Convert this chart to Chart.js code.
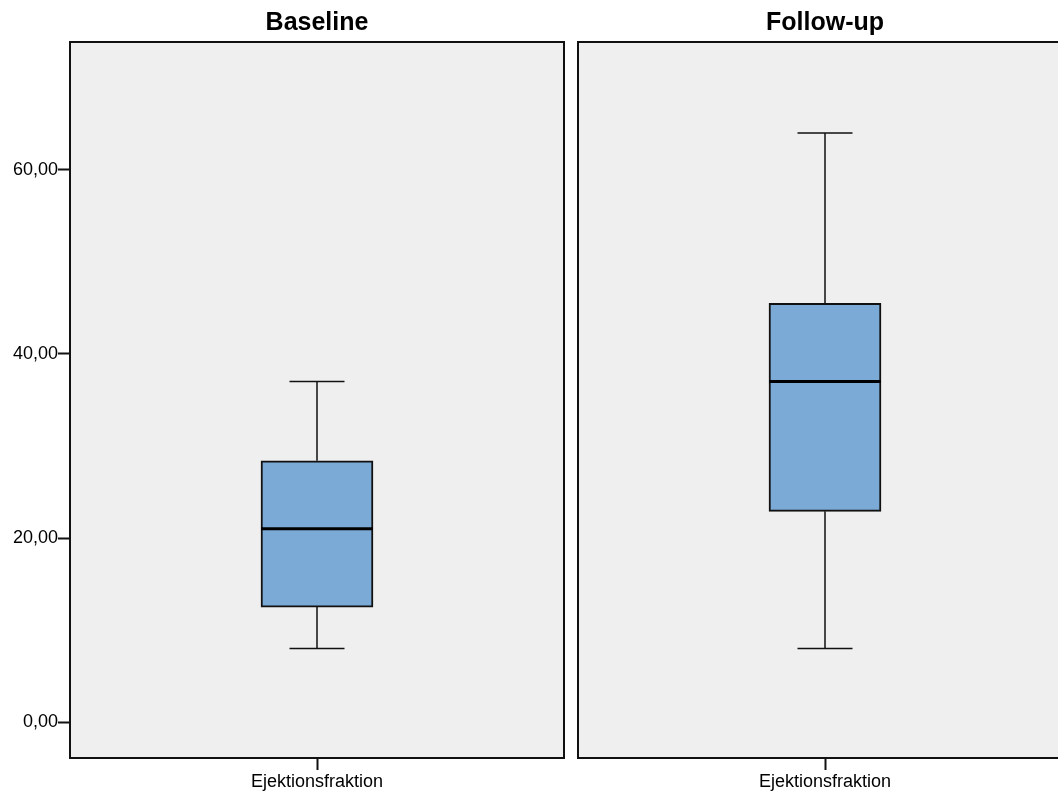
<!DOCTYPE html>
<html>
<head>
<meta charset="utf-8">
<script src="https://cdn.jsdelivr.net/npm/chart.js@4/dist/chart.umd.min.js"></script>
<style>
  html, body { margin: 0; padding: 0; background: #fff; overflow: hidden; }
  body { width: 1058px; height: 794px; position: relative; }
  .panel { position: absolute; top: 0; height: 794px; }
  #left { left: 0; width: 571px; }
  #right { left: 571px; width: 508px; }
</style>
</head>
<body>
<div class="panel" id="left"><canvas id="baseChart"></canvas></div>
<div class="panel" id="right"><canvas id="followChart"></canvas></div>
<script>
// Data
const categories = ['Ejektionsfraktion'];
const panelTitles = ['Baseline', 'Follow-up'];
const baselineStats = [8, 12.5, 21, 28.4, 37];   // min, q1, median, q3, max
const followupStats = [8, 22.9, 37, 45.5, 64];
const yTicks = [0, 20, 40, 60];
const yMin = -3.9;
const yMax = 73.9;

const FONT = "'Liberation Sans', Arial, sans-serif";

// background + frame of the plot area
const frame = {
    id: 'frame',
    beforeDraw(chart) {
        const a = chart.chartArea;
        const ctx = chart.ctx;
        ctx.save();
        ctx.fillStyle = '#efefef';
        ctx.fillRect(a.left, a.top, a.right - a.left, a.bottom - a.top);
        ctx.restore();
    },
    afterDraw(chart) {
        const a = chart.chartArea;
        const ctx = chart.ctx;
        ctx.save();
        ctx.strokeStyle = '#111';
        ctx.lineWidth = 2;
        ctx.strokeRect(a.left, a.top, a.right - a.left, a.bottom - a.top);
        ctx.restore();
    }
};

// whiskers and median, placed with the chart scales
const boxParts = {
    id: 'boxParts',
    afterDatasetsDraw(chart) {
        const stats = chart.config.options.plugins.boxParts.stats;
        const x = chart.scales.x, y = chart.scales.y;
        const ctx = chart.ctx;
        const cx = x.getPixelForValue(0);
        const bar = chart.getDatasetMeta(0).data[0];
        const half = bar.width / 2;
        const cap = 27.5;
        const [mn, q1, med, q3, mx] = stats.map(v => y.getPixelForValue(v));
        ctx.save();
        ctx.strokeStyle = '#111';
        ctx.lineWidth = 1.5;
        ctx.beginPath();
        ctx.moveTo(cx, q3); ctx.lineTo(cx, mx);
        ctx.moveTo(cx - cap, mx); ctx.lineTo(cx + cap, mx);
        ctx.moveTo(cx, q1); ctx.lineTo(cx, mn);
        ctx.moveTo(cx - cap, mn); ctx.lineTo(cx + cap, mn);
        ctx.stroke();
        ctx.lineWidth = 3;
        ctx.strokeStyle = '#000';
        ctx.beginPath();
        ctx.moveTo(cx - half, med); ctx.lineTo(cx + half, med);
        ctx.stroke();
        ctx.restore();
    }
};

function makeChart(id, title, stats, showY) {
    return new Chart(document.getElementById(id), {
        type: 'bar',
        data: {
            labels: categories,
            datasets: [{
                data: [[stats[1], stats[3]]],
                backgroundColor: '#7baad6',
                borderColor: '#111',
                borderWidth: 2,
                borderSkipped: false,
                barThickness: 112
            }]
        },
        options: {
            responsive: true,
            maintainAspectRatio: false,
            animation: false,
            layout: { padding: { left: showY ? 0 : 7, right: 7, top: 0, bottom: 0 } },
            plugins: {
                legend: { display: false },
                tooltip: { enabled: false },
                title: {
                    display: true,
                    fullSize: false,
                    text: title,
                    color: '#000',
                    font: { family: FONT, size: 25, weight: 'bold', lineHeight: 1.2 },
                    padding: { top: 8, bottom: 4 }
                },
                boxParts: { stats: stats }
            },
            scales: {
                x: {
                    type: 'category',
                    offset: true,
                    grid: { offset: false, drawOnChartArea: false, tickLength: 12, tickWidth: 2, tickColor: '#111' },
                    border: { display: false },
                    ticks: { color: '#000', font: { family: FONT, size: 18 }, padding: 1 },
                    afterFit(scale) { scale.height = 36; }
                },
                y: {
                    display: showY,
                    min: yMin,
                    max: yMax,
                    grid: { drawOnChartArea: false, tickLength: 12, tickWidth: 2, tickColor: '#111' },
                    border: { display: false },
                    ticks: {
                        color: '#000',
                        font: { family: FONT, size: 18 },
                        padding: 0,
                        callback: v => v.toFixed(2).replace('.', ',')
                    },
                    afterBuildTicks(scale) { scale.ticks = yTicks.map(v => ({ value: v })); },
                    afterFit(scale) { scale.width = showY ? 70 : 0; }
                }
            }
        },
        plugins: [frame, boxParts]
    });
}

makeChart('baseChart', panelTitles[0], baselineStats, true);
makeChart('followChart', panelTitles[1], followupStats, false);
</script>
</body>
</html>
